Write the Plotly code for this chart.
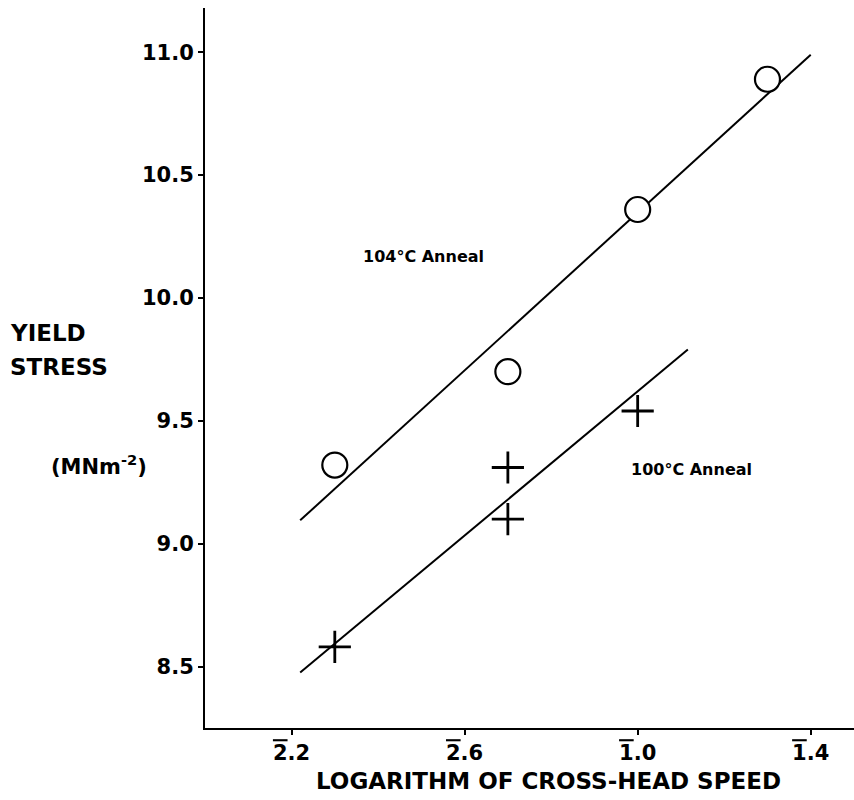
import plotly.graph_objects as go

# Data (log of cross-head speed written as decimal: 2̄.3 = -1.7, etc.)
anneal104_x = [-1.7, -1.3, -1.0, -0.7]
anneal104_y = [9.32, 9.70, 10.36, 10.89]
anneal100_x = [-1.7, -1.3, -1.3, -1.0]
anneal100_y = [8.58, 9.31, 9.10, 9.54]

fit104_x = [-1.78, -0.6]
fit104_y = [9.095, 10.99]
fit100_x = [-1.78, -0.884]
fit100_y = [8.476, 9.79]

x_tickvals = [-1.8, -1.4, -1.0, -0.6]
x_tick_char = ["2", "2", "1", "1"]
x_tick_frac = [".2", ".6", ".0", ".4"]
y_tickvals = [8.5, 9.0, 9.5, 10.0, 10.5, 11.0]
y_ticktext = ["8.5", "9.0", "9.5", "10.0", "10.5", "11.0"]

x_ticktext = ["<span style='text-decoration:overline'>%s</span>%s" % (c, f)
              for c, f in zip(x_tick_char, x_tick_frac)]

FONT = "DejaVu Sans"
fig = go.Figure()

fig.add_trace(go.Scatter(x=fit104_x, y=fit104_y, mode="lines",
                         line=dict(color="black", width=2), showlegend=False))
fig.add_trace(go.Scatter(x=fit100_x, y=fit100_y, mode="lines",
                         line=dict(color="black", width=2), showlegend=False))
fig.add_trace(go.Scatter(x=anneal104_x, y=anneal104_y, mode="markers",
                         marker=dict(symbol="circle", size=25, color="white",
                                     line=dict(color="black", width=2.2)),
                         showlegend=False))
fig.add_trace(go.Scatter(x=anneal100_x, y=anneal100_y, mode="markers",
                         marker=dict(symbol="cross-thin-open", size=23, color="black",
                                     line=dict(color="black", width=2.8)),
                         showlegend=False))

tickfont = dict(family=FONT, size=21, color="black", weight="bold")
fig.update_xaxes(range=[-2.0, -0.5], tickvals=x_tickvals, ticktext=x_ticktext,
                 showgrid=False, zeroline=False, showline=True, linecolor="black",
                 linewidth=2, ticks="outside", ticklen=5, tickwidth=2, tickcolor="black",
                 tickfont=tickfont)
fig.update_yaxes(range=[8.25, 11.18], tickvals=y_tickvals, ticktext=y_ticktext,
                 showgrid=False, zeroline=False, showline=True, linecolor="black",
                 linewidth=2, ticks="outside", ticklen=5, tickwidth=2, tickcolor="black",
                 tickfont=tickfont)

W, H = 854, 800
L, R, T, B = 205, 0, 8, 72
pw, ph = W - L - R, H - T - B

def px(x):
    return (x - L) / pw

def py(y):
    return (H - B - y) / ph

ann = [
    dict(text="YIELD", x=px(8), y=py(333), xanchor="left", yanchor="middle", size=23),
    dict(text="STRESS", x=px(8), y=py(367), xanchor="left", yanchor="middle", size=23),
    dict(text="(MNm<sup>-2</sup>)", x=px(49), y=py(465), xanchor="left", yanchor="middle", size=21),
    dict(text="LOGARITHM OF CROSS-HEAD SPEED", x=px(548), y=py(781), xanchor="center", yanchor="middle", size=23),
]
for a in ann:
    fig.add_annotation(text=a["text"], x=a["x"], y=a["y"], xref="paper", yref="paper",
                       xanchor=a["xanchor"], yanchor=a["yanchor"], showarrow=False,
                       font=dict(family=FONT, size=a["size"], color="black", weight="bold"))

fig.add_annotation(text="104°C Anneal", x=-1.64, y=10.17, xref="x", yref="y",
                   xanchor="left", yanchor="middle", showarrow=False,
                   font=dict(family=FONT, size=16, color="black", weight="bold"))
fig.add_annotation(text="100°C Anneal", x=-1.02, y=9.30, xref="x", yref="y",
                   xanchor="left", yanchor="middle", showarrow=False,
                   font=dict(family=FONT, size=16, color="black", weight="bold"))

fig.update_layout(width=W, height=H, margin=dict(l=L, r=R, t=T, b=B),
                  plot_bgcolor="white", paper_bgcolor="white")

fig.write_html("out.html")
